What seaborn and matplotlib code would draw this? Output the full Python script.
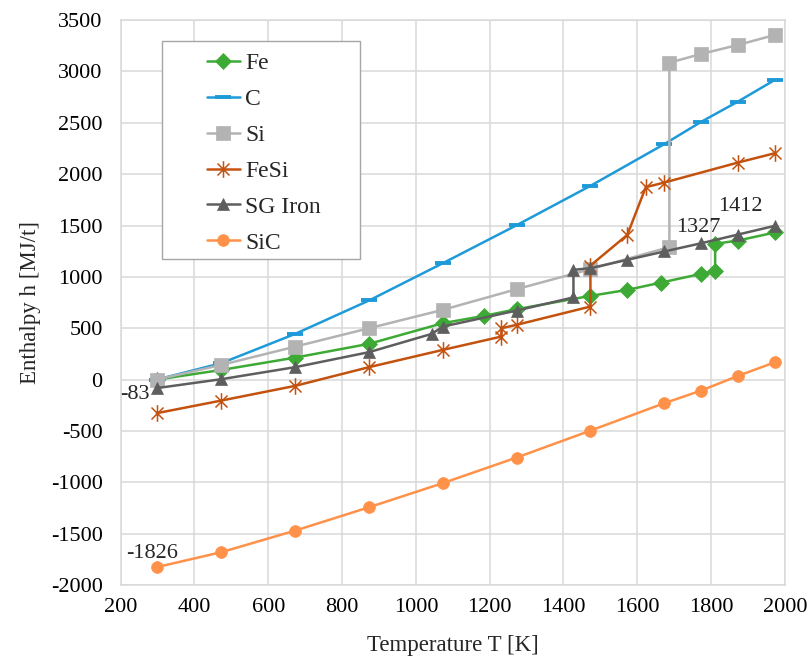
import numpy as np
import pandas as pd
import matplotlib
matplotlib.use("Agg")
import matplotlib.pyplot as plt
from matplotlib.path import Path
from matplotlib.patches import Rectangle
import seaborn as sns

# ---- data ----
fe_T = [298, 473, 673, 873, 1073, 1184, 1273, 1473, 1573, 1665, 1773, 1811, 1811, 1873, 1973]
fe_h = [0, 94, 214, 348, 549, 620, 685, 815, 873, 945, 1029, 1058, 1321, 1354, 1432]

c_T = [298, 473, 673, 873, 1073, 1273, 1473, 1673, 1773, 1873, 1973]
c_h = [0, 160, 445, 770, 1133, 1503, 1886, 2292, 2509, 2707, 2918]

si_T = [298, 473, 673, 873, 1073, 1273, 1473, 1687, 1687, 1773, 1873, 1973]
si_h = [0, 143, 321, 500, 679, 880, 1075, 1290, 3085, 3170, 3258, 3355]

fesi_T = [298, 473, 673, 873, 1073, 1232, 1232, 1273, 1473, 1473, 1573, 1623, 1673, 1873, 1973]
fesi_h = [-327, -204, -61, 121, 289, 419, 500, 533, 711, 1110, 1409, 1873, 1918, 2113, 2204]

sg_T = [298, 473, 673, 873, 1043, 1073, 1273, 1427, 1427, 1473, 1573, 1673, 1773, 1873, 1973]
sg_h = [-83, 4, 121, 267, 445, 516, 672, 800, 1068, 1085, 1166, 1247, 1327, 1412, 1497]

sic_T = [298, 473, 673, 873, 1073, 1273, 1473, 1673, 1773, 1873, 1973]
sic_h = [-1826, -1680, -1470, -1243, -1008, -759, -497, -230, -107, 36, 169]

x_ticks = [200, 400, 600, 800, 1000, 1200, 1400, 1600, 1800, 2000]
y_ticks = [-2000, -1500, -1000, -500, 0, 500, 1000, 1500, 2000, 2500, 3000, 3500]

sns.set_style("white")
plt.rcParams['font.family'] = ['Liberation Serif', 'DejaVu Serif']
plt.rcParams['axes.unicode_minus'] = False

fig = plt.figure(figsize=(8.1, 6.6), dpi=100)
ax = fig.add_axes([0.149, 0.1136, 0.82, 0.856])

asterisk = Path([(0, -1), (0, 1), (-0.72, -0.72), (0.72, 0.72), (-0.72, 0.72), (0.72, -0.72)],
                [Path.MOVETO, Path.LINETO, Path.MOVETO, Path.LINETO, Path.MOVETO, Path.LINETO])

series = [
    ("Fe", fe_T, fe_h, "#3DAA35", "D", 8),
    ("C", c_T, c_h, "#1E9AD8", "_", 12),
    ("Si", si_T, si_h, "#B3B3B3", "s", 9.5),
    ("FeSi", fesi_T, fesi_h, "#C4520F", asterisk, 12),
    ("SG Iron", sg_T, sg_h, "#5E5E5E", "^", 9),
    ("SiC", sic_T, sic_h, "#FF9149", "o", 8.5),
]

for name, T, h, col, mk, ms in series:
    df = pd.DataFrame({"T": T, "h": h})
    kw = dict(marker=mk, markersize=ms, color=col, linewidth=1.8,
              markeredgecolor=col, markerfacecolor=col)
    if mk == "_":
        kw["markeredgewidth"] = 2.8
    elif mk is asterisk:
        kw["markeredgewidth"] = 1.1
        kw["markerfacecolor"] = "none"
    else:
        kw["markeredgewidth"] = 0.5
    sns.lineplot(data=df, x="T", y="h", estimator=None, sort=False, ax=ax,
                 label=name, **kw)

ax.set_xlim(200, 2000)
ax.set_ylim(-2000, 3500)
ax.set_xticks(x_ticks)
ax.set_yticks(y_ticks)
ax.grid(True, color="#D9D9D9", linewidth=1.1)
ax.set_axisbelow(True)
for s in ax.spines.values():
    s.set_color("#D9D9D9")
    s.set_linewidth(1.1)
ax.tick_params(axis="both", length=0, labelsize=16, colors="black")
ax.tick_params(axis="y", pad=13)
ax.tick_params(axis="x", pad=9)

ax.set_xlabel("Temperature T [K]", fontsize=16.5, labelpad=13)
ax.set_ylabel("Enthalpy h [MJ/t]", fontsize=16.5, labelpad=7)

# annotations
ann_fs = 16
ax.annotate("-83", xy=(sg_T[0], sg_h[0]), xytext=(-22, -6), textcoords="offset pixels",
            ha="center", va="center", fontsize=ann_fs)
ax.annotate("-1826", xy=(sic_T[0], sic_h[0]), xytext=(-5, 14), textcoords="offset pixels",
            ha="center", va="center", fontsize=ann_fs)
ax.annotate("1327", xy=(sg_T[12], sg_h[12]), xytext=(-3, 16), textcoords="offset pixels",
            ha="center", va="center", fontsize=ann_fs)
ax.annotate("1412", xy=(sg_T[13], sg_h[13]), xytext=(2, 28), textcoords="offset pixels",
            ha="center", va="center", fontsize=ann_fs)

# legend (frame drawn separately to match the wide padding of the reference)
leg = ax.legend(loc="upper left", bbox_to_anchor=(0.1295, 0.9426), fontsize=17,
                frameon=False, handlelength=1.4, handletextpad=0.22,
                labelspacing=0.61, borderpad=0.0, borderaxespad=0.0)
ax.add_patch(Rectangle((0.062, 0.577), 0.299, 0.386, transform=ax.transAxes,
                       facecolor="white", edgecolor="#A6A6A6", linewidth=1.0,
                       zorder=4.5))
leg.set_zorder(5)

fig.savefig("out.png", dpi=100)
